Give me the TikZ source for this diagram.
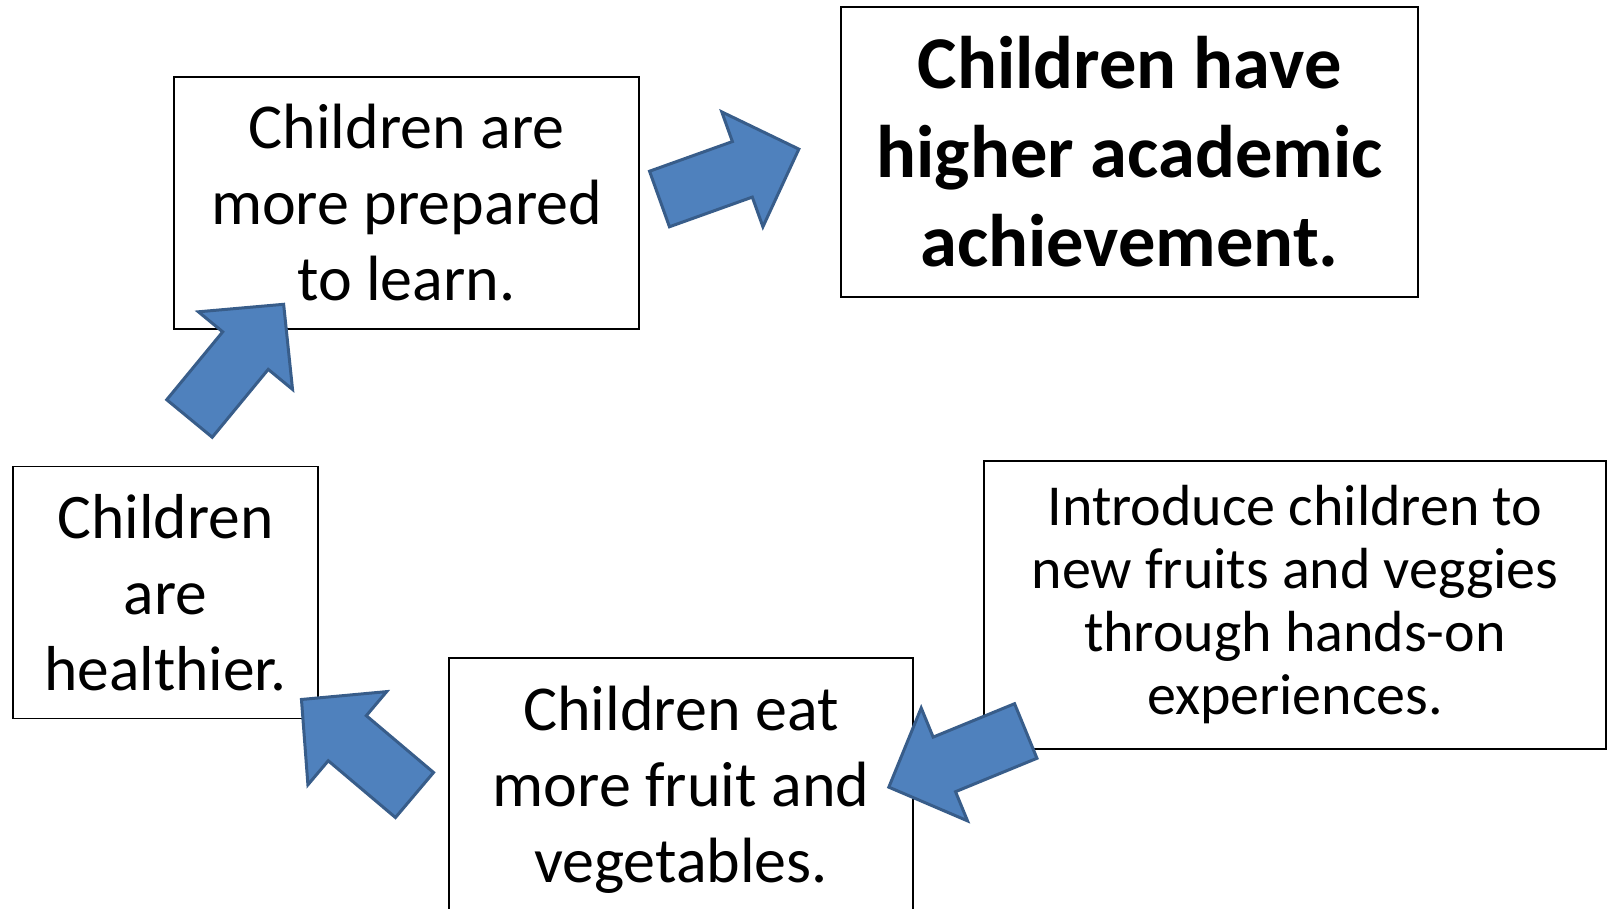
\documentclass[tikz,border=0pt]{standalone}
\usepackage{fontspec}
\setmainfont{Carlito}
\definecolor{arrowfill}{HTML}{4F81BD}
\definecolor{arrowline}{HTML}{385D8A}
\newcommand{\blockarrow}[2]{%
	\draw[bigarrow,shift={(#1)},rotate=#2] (0,-29.5) -- (88,-29.5) -- (88,-61) -- (148,0)
		-- (88,61) -- (88,29.5) -- (0,29.5) -- cycle;}
\begin{document}
\begin{tikzpicture}[x=1pt,y=-1pt,
	box/.style={draw,fill=white,line width=1.8pt,align=center,inner sep=0pt},
	bigarrow/.style={fill=arrowfill,draw=arrowline,line width=3pt,line join=miter}]
\clip (0,0) rectangle (1608,909);
\node[box,minimum width=465pt,minimum height=252pt,font=\fontsize{64}{76}\selectfont] (prepared) at (406.5,203)
	{Children are\\more prepared\\to learn.};
\node[box,minimum width=577pt,minimum height=290pt,font=\fontsize{74.5}{89}\selectfont\bfseries] (achieve) at (1129.5,152)
	{Children have\\higher academic\\achievement.};
\node[box,minimum width=305pt,minimum height=252pt,font=\fontsize{63.5}{76}\selectfont] (healthy) at (165.5,592.5)
	{Children\\are\\healthier.};
\node[box,minimum width=464pt,minimum height=264pt,font=\fontsize{64}{76}\selectfont] (eat) at (681,790)
	{Children eat\\more fruit and\\vegetables.};
\node[box,minimum width=622pt,minimum height=288pt,font=\fontsize{58}{63}\selectfont] (intro) at (1295,605)
	{Introduce children to\\new fruits and veggies\\through hands-on\\experiences.};
% tails of the block arrows
\coordinate (t1) at (659.5,199);
\coordinate (t2) at (189.5,418.5);
\coordinate (t3) at (414.5,795);
\coordinate (t4) at (1025.75,731);
\blockarrow{t1}{19.7}
\blockarrow{t2}{50.5}
\blockarrow{t3}{139.8}
\blockarrow{t4}{202.3}
\end{tikzpicture}
\end{document}
